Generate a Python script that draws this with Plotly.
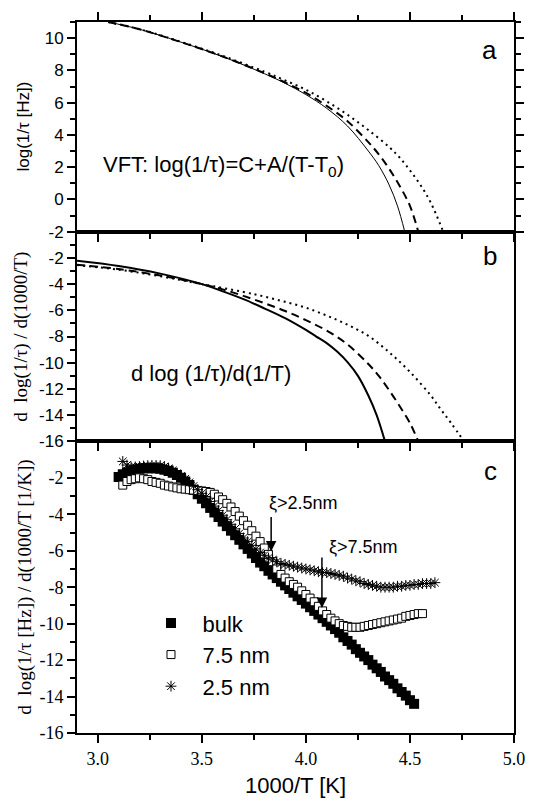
import plotly.graph_objects as go
from plotly.subplots import make_subplots

# ---------------- Panel a: VFT fits ----------------
a_solid_x = [3.05, 3.2, 3.4, 3.6, 3.8, 3.9, 4.0, 4.1, 4.2, 4.3, 4.35, 4.4, 4.44, 4.475]
a_solid_y = [11.0, 10.55, 9.75, 8.85, 7.8, 7.2, 6.5, 5.65, 4.55, 3.0, 2.1, 0.9, -0.4, -2.0]
a_dash_x = [3.05, 3.2, 3.4, 3.6, 3.8, 3.9, 4.0, 4.1, 4.2, 4.3, 4.35, 4.4, 4.45, 4.5, 4.54]
a_dash_y = [11.0, 10.55, 9.75, 8.86, 7.83, 7.25, 6.6, 5.8, 4.85, 3.55, 2.8, 1.9, 0.85, -0.4, -2.0]
a_dot_x = [3.05, 3.2, 3.4, 3.6, 3.8, 3.9, 4.0, 4.1, 4.2, 4.3, 4.4, 4.45, 4.5, 4.55, 4.6, 4.66]
a_dot_y = [11.0, 10.56, 9.77, 8.9, 7.92, 7.38, 6.8, 6.08, 5.25, 4.3, 3.25, 2.6, 1.8, 0.9, -0.2, -2.0]

# ---------------- Panel b: derivatives of fits ----------------
b_solid_x = [2.9, 3.1, 3.3, 3.5, 3.6, 3.7, 3.8, 3.9, 4.0, 4.05, 4.1, 4.15, 4.2, 4.25, 4.3, 4.34, 4.38]
b_solid_y = [-2.22, -2.62, -3.2, -4.0, -4.55, -5.15, -5.85, -6.6, -7.5, -8.0, -8.5, -9.15, -9.95, -11.0,
             -12.5, -14.0, -16.0]
b_dash_x = [2.9, 3.1, 3.3, 3.5, 3.6, 3.7, 3.8, 3.9, 4.0, 4.1, 4.2, 4.3, 4.35, 4.4, 4.45, 4.5, 4.54]
b_dash_y = [-2.52, -2.85, -3.35, -4.0, -4.4, -4.9, -5.45, -6.05, -6.75, -7.55, -8.6, -10.1, -11.0, -12.1,
            -13.3, -14.6, -16.0]
b_dot_x = [2.9, 3.1, 3.3, 3.5, 3.7, 3.8, 3.9, 4.0, 4.1, 4.2, 4.3, 4.4, 4.5, 4.6, 4.65, 4.7, 4.76]
b_dot_y = [-2.55, -2.9, -3.4, -4.0, -4.6, -4.95, -5.35, -5.8, -6.4, -7.1, -7.95, -9.2, -10.7, -12.5, -13.6,
           -14.65, -16.0]

# ---------------- Panel c: measured derivatives ----------------
bulk_x = [3.10, 3.12, 3.14, 3.16, 3.18, 3.20, 3.22, 3.24, 3.26, 3.28, 3.30, 3.32, 3.34, 3.36, 3.38,
          3.40, 3.42, 3.44, 3.46, 3.48, 3.50, 3.52, 3.54, 3.56, 3.58, 3.60, 3.62, 3.64, 3.66, 3.68,
          3.70, 3.72, 3.74, 3.76, 3.78, 3.80, 3.82, 3.84, 3.86, 3.88, 3.90, 3.92, 3.94, 3.96, 3.98,
          4.00, 4.02, 4.04, 4.06, 4.08, 4.10, 4.12, 4.14, 4.16, 4.18, 4.20, 4.22, 4.24, 4.26, 4.28,
          4.30, 4.32, 4.34, 4.36, 4.38, 4.40, 4.42, 4.44, 4.46, 4.48, 4.50, 4.52]
bulk_y = [-1.95, -1.8, -1.7, -1.6, -1.55, -1.5, -1.48, -1.47, -1.47, -1.48, -1.5, -1.55, -1.62, -1.72, -1.85,
          -2.0, -2.2, -2.4, -2.65, -2.9, -3.15, -3.4, -3.65, -3.9, -4.15, -4.4, -4.65, -4.9, -5.15, -5.4,
          -5.65, -5.9, -6.15, -6.4, -6.65, -6.85, -7.1, -7.3, -7.5, -7.7, -7.9, -8.1, -8.3, -8.5, -8.7,
          -8.9, -9.1, -9.3, -9.5, -9.7, -9.9, -10.1, -10.3, -10.5, -10.75, -10.95, -11.15, -11.4, -11.6, -11.8,
          -12.0, -12.25, -12.45, -12.65, -12.9, -13.1, -13.3, -13.55, -13.75, -13.95, -14.2, -14.4]

nm75_x = [3.12, 3.14, 3.16, 3.18, 3.20, 3.22, 3.24, 3.26, 3.28, 3.30, 3.32, 3.34, 3.36, 3.38, 3.40,
          3.42, 3.44, 3.46, 3.48, 3.50, 3.52, 3.54, 3.56, 3.58, 3.60, 3.62, 3.64, 3.66, 3.68, 3.70,
          3.72, 3.74, 3.76, 3.78, 3.80, 3.82, 3.84, 3.86, 3.88, 3.90, 3.92, 3.94, 3.96, 3.98, 4.00,
          4.02, 4.04, 4.06, 4.08, 4.10, 4.12, 4.14, 4.16, 4.18, 4.20, 4.22, 4.24, 4.26, 4.28, 4.30,
          4.32, 4.34, 4.36, 4.38, 4.40, 4.42, 4.44, 4.46, 4.48, 4.50, 4.52, 4.54, 4.56]
nm75_y = [-2.4, -2.2, -2.1, -2.05, -2.0, -2.05, -2.1, -2.2, -2.25, -2.3, -2.4, -2.45, -2.5, -2.55, -2.6,
          -2.62, -2.65, -2.67, -2.7, -2.72, -2.75, -2.8, -2.9, -3.05, -3.2, -3.4, -3.6, -3.85, -4.1, -4.35,
          -4.6, -4.9, -5.2, -5.5, -5.85, -6.2, -6.6, -7.0, -7.3, -7.5, -7.7, -7.85, -8.0, -8.2, -8.4,
          -8.6, -8.8, -9.05, -9.3, -9.5, -9.7, -9.85, -10.0, -10.1, -10.15, -10.2, -10.2, -10.2, -10.15, -10.1,
          -10.05, -10.0, -9.95, -9.9, -9.85, -9.8, -9.75, -9.7, -9.6, -9.55, -9.5, -9.45, -9.45]

nm25_x = [3.12, 3.14, 3.16, 3.18, 3.20, 3.22, 3.24, 3.26, 3.28, 3.30, 3.32, 3.34, 3.36, 3.38, 3.40,
          3.42, 3.44, 3.46, 3.48, 3.50, 3.52, 3.54, 3.56, 3.58, 3.60, 3.62, 3.64, 3.66, 3.68, 3.70,
          3.72, 3.74, 3.76, 3.78, 3.80, 3.82, 3.84, 3.86, 3.88, 3.90, 3.92, 3.94, 3.96, 3.98, 4.00,
          4.02, 4.04, 4.06, 4.08, 4.10, 4.12, 4.14, 4.16, 4.18, 4.20, 4.22, 4.24, 4.26, 4.28, 4.30,
          4.32, 4.34, 4.36, 4.38, 4.40, 4.42, 4.44, 4.46, 4.48, 4.50, 4.52, 4.54, 4.56, 4.58, 4.60, 4.62]
nm25_y = [-1.1, -1.3, -1.4, -1.4, -1.38, -1.35, -1.33, -1.32, -1.32, -1.33, -1.38, -1.48, -1.6, -1.75, -1.9,
          -2.05, -2.25, -2.45, -2.65, -2.85, -3.05, -3.3, -3.55, -3.8, -4.05, -4.3, -4.55, -4.8, -5.05, -5.3,
          -5.5, -5.7, -5.9, -6.1, -6.25, -6.4, -6.5, -6.6, -6.7, -6.75, -6.8, -6.85, -6.9, -6.95, -7.0,
          -7.05, -7.1, -7.15, -7.2, -7.2, -7.25, -7.3, -7.35, -7.4, -7.5, -7.55, -7.65, -7.7, -7.8, -7.85,
          -7.9, -7.95, -8.0, -8.0, -8.0, -8.0, -7.95, -7.95, -7.9, -7.9, -7.85, -7.85, -7.8, -7.8, -7.8, -7.75]

x_ticks = [3.0, 3.5, 4.0, 4.5, 5.0]
x_ticktext = ["3.0", "3.5", "4.0", "4.5", "5.0"]
a_ticks = [-2, 0, 2, 4, 6, 8, 10]
a_ticktext = ["-2", "0", "2", "4", "6", "8", "10"]
bc_ticks = [-16, -14, -12, -10, -8, -6, -4, -2]
bc_ticktext = ["-16", "-14", "-12", "-10", "-8", "-6", "-4", "-2"]

SANS = "Liberation Sans"
SERIF = "Liberation Serif"

fig = make_subplots(rows=3, cols=1, shared_xaxes=True, vertical_spacing=0,
                    row_heights=[215, 215, 299])

# panel a
fig.add_trace(go.Scatter(x=a_solid_x, y=a_solid_y, mode="lines", line=dict(color="black", width=1, shape="spline"),
                         showlegend=False), row=1, col=1)
fig.add_trace(go.Scatter(x=a_dash_x, y=a_dash_y, mode="lines",
                         line=dict(color="black", width=2, dash="8px,5px", shape="spline"),
                         showlegend=False), row=1, col=1)
fig.add_trace(go.Scatter(x=a_dot_x, y=a_dot_y, mode="lines",
                         line=dict(color="black", width=2, dash="2px,4px", shape="spline"),
                         showlegend=False), row=1, col=1)
# panel b
fig.add_trace(go.Scatter(x=b_solid_x, y=b_solid_y, mode="lines", line=dict(color="black", width=2, shape="spline"),
                         showlegend=False), row=2, col=1)
fig.add_trace(go.Scatter(x=b_dash_x, y=b_dash_y, mode="lines",
                         line=dict(color="black", width=2, dash="8px,5px", shape="spline"),
                         showlegend=False), row=2, col=1)
fig.add_trace(go.Scatter(x=b_dot_x, y=b_dot_y, mode="lines",
                         line=dict(color="black", width=2, dash="2px,4px", shape="spline"),
                         showlegend=False), row=2, col=1)
# panel c
fig.add_trace(go.Scatter(x=bulk_x, y=bulk_y, mode="markers", name="bulk",
                         marker=dict(symbol="square", size=10, color="black", line=dict(width=0))),
              row=3, col=1)
fig.add_trace(go.Scatter(x=nm75_x, y=nm75_y, mode="markers", name="7.5 nm",
                         marker=dict(symbol="square", size=8, color="white", line=dict(color="black", width=1))),
              row=3, col=1)
fig.add_trace(go.Scatter(x=nm25_x, y=nm25_y, mode="markers", name="2.5 nm",
                         marker=dict(symbol="asterisk-open", size=9, color="black", line=dict(color="black", width=1))),
              row=3, col=1)

axis_common = dict(showline=True, linecolor="black", linewidth=2, ticks="outside", tickcolor="black",
                   showgrid=False, zeroline=False)

for r in (1, 2, 3):
    fig.update_xaxes(range=[2.9, 5.0], tickvals=x_ticks, ticktext=x_ticktext, ticklen=8, tickwidth=1.5,
                     minor=dict(tickvals=[3.25, 3.75, 4.25, 4.75], ticklen=5, tickcolor="black", tickwidth=1.5),
                     mirror=("ticks" if r == 1 else True), row=r, col=1, **axis_common)
fig.update_xaxes(showticklabels=True, tickfont=dict(family=SERIF, size=18, color="black"),
                 title=dict(text="1000/T [K]", font=dict(family=SANS, size=22, color="black"), standoff=10),
                 row=3, col=1)

fig.update_yaxes(range=[-2, 11], tickvals=a_ticks, ticktext=a_ticktext, ticklen=8, tickwidth=1.5,
                 minor=dict(dtick=1, ticklen=5, tickcolor="black", tickwidth=1.5),
                 mirror="ticks", tickfont=dict(family=SANS, size=17, color="black"),
                 row=1, col=1, **axis_common)
fig.update_yaxes(range=[-16, 0], tickvals=bc_ticks, ticktext=bc_ticktext, ticklen=8, tickwidth=1.5,
                 minor=dict(dtick=1, ticklen=5, tickcolor="black", tickwidth=1.5),
                 mirror=True, tickfont=dict(family=SANS, size=17, color="black"),
                 row=2, col=1, **axis_common)
fig.update_yaxes(range=[-16, 0], tickvals=bc_ticks, ticktext=bc_ticktext, ticklen=8, tickwidth=1.5,
                 minor=dict(dtick=1, ticklen=5, tickcolor="black", tickwidth=1.5),
                 mirror=True, tickfont=dict(family=SERIF, size=18, color="black"),
                 row=3, col=1, **axis_common)

ann = []
# y titles
ann.append(dict(text="log(1/τ [Hz])", xref="paper", yref="y domain", x=-0.122, y=0.5, textangle=-90,
                showarrow=False, font=dict(family=SANS, size=17, color="black"), xanchor="center", yanchor="middle"))
ann.append(dict(text="d  log(1/τ) / d(1000/T)", xref="paper", yref="y2 domain", x=-0.13, y=0.5, textangle=-90,
                showarrow=False, font=dict(family=SERIF, size=19, color="black"), xanchor="center", yanchor="middle"))
ann.append(dict(text="d  log(1/τ [Hz]) / d(1000/T [1/K])", xref="paper", yref="y3 domain", x=-0.118, y=0.5,
                textangle=-90, showarrow=False, font=dict(family=SERIF, size=19, color="black"),
                xanchor="center", yanchor="middle"))
# panel letters
ann.append(dict(text="a", xref="x domain", yref="y domain", x=0.965, y=0.865, showarrow=False,
                font=dict(family=SANS, size=26, color="black"), xanchor="right", yanchor="middle"))
ann.append(dict(text="b", xref="x2 domain", yref="y2 domain", x=0.965, y=0.885, showarrow=False,
                font=dict(family=SANS, size=26, color="black"), xanchor="right", yanchor="middle"))
ann.append(dict(text="c", xref="x3 domain", yref="y3 domain", x=0.965, y=0.897, showarrow=False,
                font=dict(family=SANS, size=26, color="black"), xanchor="right", yanchor="middle"))
# formula texts
ann.append(dict(text="VFT: log(1/τ)=C+A/(T-T<sub>0</sub>)", xref="x", yref="y", x=3.015, y=2.05, showarrow=False,
                font=dict(family=SANS, size=22, color="black"), xanchor="left", yanchor="middle"))
ann.append(dict(text="d log (1/τ)/d(1/T)", xref="x2", yref="y2", x=3.15, y=-10.8, showarrow=False,
                font=dict(family=SANS, size=22, color="black"), xanchor="left", yanchor="middle"))
# arrows in panel c
ann.append(dict(text="ξ>2.5nm", xref="x3", yref="y3", x=3.815, y=-3.37, showarrow=False,
                font=dict(family=SANS, size=18, color="black"), xanchor="left", yanchor="middle"))
ann.append(dict(text="", xref="x3", yref="y3", x=3.833, y=-6.04, ax=0, ay=-36, showarrow=True,
                arrowhead=2, arrowsize=1.4, arrowwidth=1.5, arrowcolor="black"))
ann.append(dict(text="ξ>7.5nm", xref="x3", yref="y3", x=4.1, y=-5.78, showarrow=False,
                font=dict(family=SANS, size=18, color="black"), xanchor="left", yanchor="middle"))
ann.append(dict(text="", xref="x3", yref="y3", x=4.077, y=-9.14, ax=0, ay=-52, showarrow=True,
                arrowhead=2, arrowsize=1.4, arrowwidth=1.5, arrowcolor="black"))

fig.update_layout(
    width=537, height=806,
    margin=dict(l=77, r=12, t=12, b=65),
    paper_bgcolor="white", plot_bgcolor="white",
    annotations=ann,
    showlegend=True,
    legend=dict(x=0.143, y=0.184, xanchor="left", yanchor="top", bgcolor="rgba(0,0,0,0)",
                font=dict(family=SANS, size=22, color="black"), itemwidth=53),
)

fig.write_html("out.html")
